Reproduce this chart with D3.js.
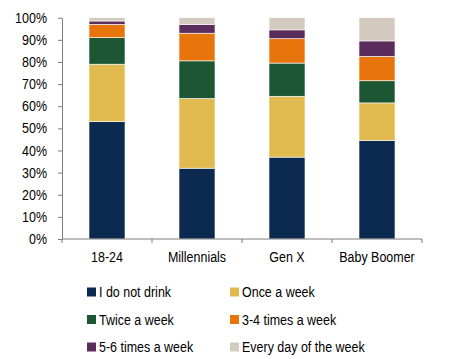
<!DOCTYPE html>
<html><head><meta charset="utf-8">
<script src="https://cdn.jsdelivr.net/npm/d3@7"></script>
<style>body{margin:0;background:#fff;}svg{display:block;font-family:"Liberation Sans",Arial,sans-serif;}</style>
</head><body>
<svg id="c" width="453" height="359"></svg>
<script>
const categories = ["18-24", "Millennials", "Gen X", "Baby Boomer"];
const seriesNames = ["I do not drink", "Once a week", "Twice a week", "3-4 times a week", "5-6 times a week", "Every day of the week"];
const notDrink = [53, 32, 37, 44.5];
const onceWeek = [26, 31.5, 27.5, 17];
const twiceWeek = [12, 17, 15, 10];
const threeFour = [6, 12.5, 11, 11];
const fiveSix = [1.5, 4, 4, 7];
const everyDay = [1.5, 3, 5.5, 10.5];
const yTicks = [0, 10, 20, 30, 40, 50, 60, 70, 80, 90, 100];
const colors = ["#0c2a4f", "#e0b94f", "#1c5632", "#e8740c", "#5a2d5c", "#d3cbc0"];

const FS = 14.5, SX = 0.86;
const seriesValues = [notDrink, onceWeek, twiceWeek, threeFour, fiveSix, everyDay];
const rows = categories.map((c, i) => {
  const r = {cat: c};
  seriesNames.forEach((s, j) => r[s] = seriesValues[j][i]);
  return r;
});
const stack = d3.stack().keys(seriesNames)(rows);

const svg = d3.select("#c");
const x = d3.scaleBand().domain(categories).range([62, 422]).paddingInner(0.6).paddingOuter(0.3);
const y = d3.scaleLinear().domain([0, 100]).range([239, 17.7]);

svg.append("g").selectAll("g").data(stack).join("g")
  .attr("fill", (d, i) => colors[i])
  .selectAll("rect").data(d => d).join("rect")
  .attr("x", d => x(d.data.cat))
  .attr("width", x.bandwidth())
  .attr("y", d => y(d[1]))
  .attr("height", d => y(d[0]) - y(d[1]))
  .attr("stroke", "#fff").attr("stroke-width", 0.6);

const axisColor = "#7f7f7f";
const yAxis = svg.append("g").attr("transform", "translate(62,0)")
  .call(d3.axisLeft(y).tickValues(yTicks).tickFormat(d => d + "%").tickSize(4).tickSizeOuter(0));
yAxis.select(".domain").attr("stroke", axisColor);
yAxis.selectAll(".tick line").attr("stroke", axisColor);
yAxis.selectAll("text").attr("font-size", FS).attr("fill", "#000")
  .attr("font-family", "Liberation Sans, Arial, sans-serif")
  .attr("x", 0).attr("transform", `translate(-15,0) scale(${SX},1)`);

// x axis with ticks at band boundaries
const xb = d3.scaleLinear().domain([0, categories.length]).range([62, 422]);
const xAxis = svg.append("g").attr("transform", "translate(0,239)");
xAxis.append("line").attr("x1", 62).attr("x2", 422).attr("stroke", axisColor);
xAxis.selectAll("line.t").data(d3.range(categories.length + 1)).join("line").attr("class", "t")
  .attr("x1", d => xb(d)).attr("x2", d => xb(d)).attr("y1", 0).attr("y2", 4).attr("stroke", axisColor);
xAxis.selectAll("text").data(categories).join("text")
  .attr("transform", d => `translate(${x(d) + x.bandwidth() / 2},23) scale(${SX},1)`)
  .attr("text-anchor", "middle").attr("font-size", FS).attr("fill", "#000").text(d => d);

// legend
const leg = svg.append("g");
seriesNames.forEach((s, i) => {
  const col = i % 2, row = Math.floor(i / 2);
  const gx = col === 0 ? 87 : 230, gy = 292 + row * 27.5;
  leg.append("rect").attr("x", gx).attr("y", gy - 4.5).attr("width", 9).attr("height", 9).attr("fill", colors[i]);
  leg.append("text").attr("transform", `translate(${gx + 12},${gy}) scale(${SX},1)`)
    .attr("dy", "0.36em").attr("font-size", FS).attr("fill", "#000").text(s);
});
</script>
</body></html>
